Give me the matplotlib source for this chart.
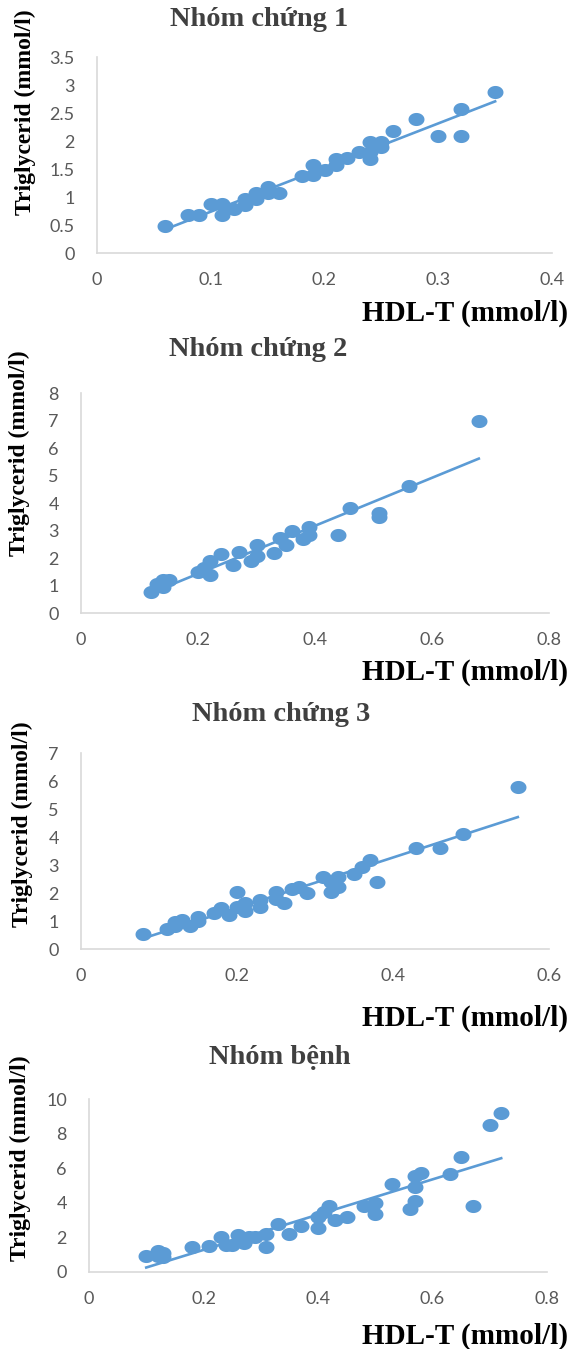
import matplotlib.pyplot as plt
import numpy as np
from matplotlib.path import Path

# Figure size in pixels (saved at 100 dpi)
FIG_W, FIG_H = 571, 1349
DPI = 100

BLUE = '#5B9BD5'
AXIS_GREY = '#D9D9D9'
TICK_GREY = '#595959'
TITLE_GREY = '#404040'
SERIF = 'Liberation Serif'
TICK_FONT = 'Lato'

# Data: HDL-T (x) vs Triglycerid (y), all in mmol/l
titles = ['Nhóm chứng 1', 'Nhóm chứng 2', 'Nhóm chứng 3', 'Nhóm bệnh']

hdl_1 = [0.06, 0.08, 0.09, 0.10, 0.11, 0.11, 0.12, 0.13, 0.13, 0.14, 0.14, 0.15,
         0.15, 0.16, 0.18, 0.19, 0.19, 0.20, 0.21, 0.21, 0.22, 0.23, 0.24, 0.24,
         0.24, 0.25, 0.25, 0.26, 0.28, 0.30, 0.32, 0.32, 0.35]
tg_1 = [0.48, 0.68, 0.68, 0.87, 0.87, 0.68, 0.78, 0.96, 0.86, 1.08, 0.97, 1.18,
        1.07, 1.08, 1.38, 1.57, 1.40, 1.49, 1.67, 1.58, 1.69, 1.81, 1.98, 1.80,
        1.68, 1.98, 1.90, 2.18, 2.39, 2.09, 2.58, 2.09, 2.88]

hdl_2 = [0.12, 0.13, 0.14, 0.14, 0.15, 0.20, 0.21, 0.22, 0.22, 0.24, 0.26, 0.27,
         0.29, 0.30, 0.30, 0.33, 0.34, 0.35, 0.36, 0.38, 0.39, 0.39, 0.44, 0.46,
         0.51, 0.51, 0.56, 0.68]
tg_2 = [0.78, 1.07, 1.20, 0.93, 1.20, 1.49, 1.65, 1.89, 1.39, 2.15, 1.75, 2.22,
        1.89, 2.49, 2.07, 2.19, 2.72, 2.49, 3.00, 2.69, 3.14, 2.85, 2.85, 3.82,
        3.62, 3.50, 4.62, 7.00]

hdl_3 = [0.08, 0.11, 0.12, 0.12, 0.13, 0.14, 0.15, 0.15, 0.17, 0.18, 0.19, 0.20,
         0.20, 0.21, 0.21, 0.23, 0.23, 0.25, 0.25, 0.26, 0.27, 0.28, 0.29, 0.31,
         0.32, 0.32, 0.33, 0.33, 0.35, 0.36, 0.37, 0.38, 0.43, 0.46, 0.49, 0.56]
tg_3 = [0.54, 0.71, 0.98, 0.82, 1.04, 0.83, 1.16, 1.00, 1.28, 1.48, 1.22, 2.04,
        1.51, 1.65, 1.34, 1.75, 1.50, 2.04, 1.80, 1.65, 2.16, 2.22, 2.00, 2.57,
        2.04, 2.40, 2.57, 2.22, 2.67, 2.93, 3.19, 2.40, 3.60, 3.60, 4.10, 5.79]

hdl_4 = [0.10, 0.12, 0.12, 0.13, 0.13, 0.18, 0.21, 0.23, 0.24, 0.25, 0.26, 0.27,
         0.28, 0.29, 0.31, 0.31, 0.33, 0.35, 0.37, 0.40, 0.40, 0.41, 0.42, 0.43,
         0.45, 0.48, 0.50, 0.50, 0.53, 0.56, 0.57, 0.57, 0.57, 0.58, 0.63, 0.65,
         0.67, 0.70, 0.72]
tg_4 = [0.95, 1.20, 0.95, 1.07, 0.85, 1.46, 1.51, 2.03, 1.58, 1.58, 2.13, 1.65,
        2.03, 2.03, 2.18, 1.42, 2.76, 2.22, 2.64, 2.55, 3.18, 3.47, 3.79, 2.99,
        3.18, 3.79, 3.98, 3.37, 5.10, 3.66, 4.10, 4.94, 5.57, 5.71, 5.67, 6.67,
        3.79, 8.49, 9.21]

x_data = [hdl_1, hdl_2, hdl_3, hdl_4]
y_data = [tg_1, tg_2, tg_3, tg_4]

x_ticks = [[0, 0.1, 0.2, 0.3, 0.4], [0, 0.2, 0.4, 0.6, 0.8],
           [0, 0.2, 0.4, 0.6], [0, 0.2, 0.4, 0.6, 0.8]]
y_ticks = [[0, 0.5, 1, 1.5, 2, 2.5, 3, 3.5], [0, 1, 2, 3, 4, 5, 6, 7, 8],
           [0, 1, 2, 3, 4, 5, 6, 7], [0, 2, 4, 6, 8, 10]]

X_LABEL = 'HDL-T (mmol/l)'
Y_LABEL = 'Triglycerid (mmol/l)'

# Layout in pixels: plot box (left, right, top, bottom), title centre, ylabel centre, xlabel y
PANELS = [
    dict(box=(97, 552, 57, 253), title=(259, 19), ylab=(25, 112), xlab=313),
    dict(box=(81, 549, 393, 613), title=(258, 350), ylab=(19, 453), xlab=672),
    dict(box=(81, 549, 753, 949), title=(281, 715), ylab=(22, 824), xlab=1018),
    dict(box=(89, 547, 1099, 1272), title=(280, 1057), ylab=(20, 1158), xlab=1336),
]

# Markers in the picture are a little wider than tall
_t = np.linspace(0, 2 * np.pi, 60)
ELLIPSE = Path(np.column_stack([1.22 * np.cos(_t), np.sin(_t)]), closed=True)


def fx(px):
    return px / FIG_W


def fy(py):
    return 1 - py / FIG_H


def draw_panel(fig, xs, ys, xt, yt, title, layout):
    left, right, top, bottom = layout['box']
    ax = fig.add_axes([fx(left), fy(bottom), fx(right - left), (bottom - top) / FIG_H])

    xs = np.array(xs)
    ys = np.array(ys)
    ax.plot(xs, ys, linestyle='none', marker=ELLIPSE, markersize=11.5,
            color=BLUE, markeredgewidth=0, zorder=3)

    # linear trendline over the data range
    k, b = np.polyfit(xs, ys, 1)
    xx = np.array([xs.min(), xs.max()])
    ax.plot(xx, k * xx + b, color=BLUE, linewidth=1.9, zorder=2)

    ax.set_xlim(xt[0], xt[-1])
    ax.set_ylim(yt[0], yt[-1])
    ax.set_xticks(xt)
    ax.set_yticks(yt)
    ax.set_xticklabels([f'{v:g}' for v in xt])
    ax.set_yticklabels([f'{v:g}' for v in yt])
    ax.tick_params(length=0, labelsize=13, labelcolor=TICK_GREY)
    ax.tick_params(axis='y', pad=16)
    ax.tick_params(axis='x', pad=14)
    for lab in ax.get_xticklabels() + ax.get_yticklabels():
        lab.set_fontfamily(TICK_FONT)

    for side in ['top', 'right']:
        ax.spines[side].set_visible(False)
    for side in ['left', 'bottom']:
        ax.spines[side].set_color(AXIS_GREY)
        ax.spines[side].set_linewidth(1.2)
    ax.patch.set_alpha(0)

    tx, ty = layout['title']
    fig.text(fx(tx), fy(ty), title, ha='center', va='center', fontsize=20.5,
             fontweight='bold', family=SERIF, color=TITLE_GREY)
    lx, ly = layout['ylab']
    fig.text(fx(lx), fy(ly), Y_LABEL, ha='center', va='center', rotation=90,
             fontsize=17, fontweight='bold', family=SERIF, color='black')
    fig.text(fx(568), fy(layout['xlab']), X_LABEL, ha='right', va='center',
             fontsize=21, fontweight='bold', family=SERIF, color='black')
    return ax


fig = plt.figure(figsize=(FIG_W / DPI, FIG_H / DPI), dpi=DPI)
fig.patch.set_facecolor('white')

for xs, ys, xt, yt, title, layout in zip(x_data, y_data, x_ticks, y_ticks, titles, PANELS):
    draw_panel(fig, xs, ys, xt, yt, title, layout)

plt.savefig('out.png', dpi=DPI, facecolor='white')
